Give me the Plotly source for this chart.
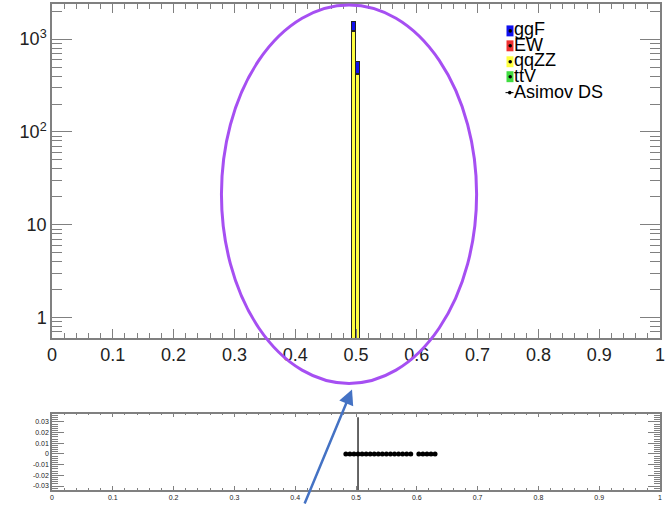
import plotly.graph_objects as go

# ---------------- data ----------------
bin_centers = [0.49667, 0.50333]
bin_width = 0.00667
ggF = [300, 146]
EW = [12, 6]
qqZZ = [1200, 410]
ttV = [8, 4]

ratio_x = [0.48333, 0.49, 0.49667, 0.50333, 0.51, 0.51667, 0.52333, 0.53, 0.53667,
           0.54333, 0.55, 0.55667, 0.56333, 0.57, 0.57667, 0.58333, 0.59,
           0.60333, 0.61, 0.61667, 0.62333, 0.63]
ratio_y = [0, 0, 0, 0, 0, 0, 0, 0, 0, 0, 0, 0, 0, 0, 0, 0, 0, 0, 0, 0, 0, 0]
ratio_err = [0, 0, 0, 0.0345, 0, 0, 0, 0, 0, 0, 0, 0, 0, 0, 0, 0, 0, 0, 0, 0, 0, 0]

x_ticks = [0, 0.1, 0.2, 0.3, 0.4, 0.5, 0.6, 0.7, 0.8, 0.9, 1]
x_labels = ["0", "0.1", "0.2", "0.3", "0.4", "0.5", "0.6", "0.7", "0.8", "0.9", "1"]
y_ticks = [1, 10, 100, 1000]
y_labels = ["1", "10", "10<sup>2</sup>", "10<sup>3</sup>"]
r_ticks = [-0.03, -0.02, -0.01, 0, 0.01, 0.02, 0.03]
r_labels = ["-0.03", "-0.02", "-0.01", "0", "0.01", "0.02", "0.03"]

legend_names = ["ggF", "EW", "qqZZ", "ttV", "Asimov DS"]
legend_colors = ["#1010ee", "#ee3030", "#ffff40", "#40dd40", None]

# ---------------- figure ----------------
W, H = 667, 505
ML, MR, MT, MB = 52, 5, 2, 15
PW, PH = W - ML - MR, H - MT - MB


def px(x):
    return (x - ML) / PW


def py(y):
    return (H - MB - y) / PH


fig = go.Figure()
stack = [("qqZZ", qqZZ, "#ffff40"), ("ttV", ttV, "#40dd40"),
         ("EW", EW, "#ee3030"), ("ggF", ggF, "#1010ee")]
for name, vals, col in stack:
    fig.add_trace(go.Bar(x=bin_centers, y=vals, width=bin_width, name=name,
                         marker=dict(color=col, line=dict(color="#222", width=1)),
                         xaxis="x", yaxis="y", showlegend=False))

fig.add_trace(go.Scatter(x=ratio_x, y=ratio_y, mode="markers",
                         marker=dict(color="black", size=5),
                         error_y=dict(type="data", array=ratio_err, visible=True,
                                      color="#333", thickness=1.5, width=0),
                         xaxis="x2", yaxis="y2", showlegend=False))

minor_log = []
for d in [0.1, 1, 10, 100, 1000]:
    for m in range(2, 10):
        minor_log.append(d * m)

axcol = "#808080"
txtcol = "#222222"
fig.update_layout(
    width=W, height=H,
    margin=dict(l=ML, r=MR, t=MT, b=MB),
    paper_bgcolor="white", plot_bgcolor="white",
    barmode="stack", bargap=0,
    font=dict(family="Liberation Sans, Arial", color=txtcol),
    xaxis=dict(domain=[0, 1], range=[0, 1], anchor="y",
               tickmode="array", tickvals=x_ticks, ticktext=x_labels,
               ticks="inside", ticklen=9, tickcolor=axcol, tickwidth=1,
               minor=dict(dtick=0.02, ticks="inside", ticklen=5, tickcolor=axcol, showgrid=False),
               showline=True, linecolor=axcol, linewidth=1.5, mirror="ticks",
               showgrid=False, zeroline=False, ticklabeloverflow="allow",
               tickfont=dict(size=18, color=txtcol)),
    yaxis=dict(domain=[py(337.5), 1], type="log", range=[-0.221, 3.379], anchor="x",
               tickmode="array", tickvals=y_ticks, ticktext=y_labels,
               ticks="inside", ticklen=20, tickcolor=axcol, tickwidth=1,
               minor=dict(tickmode="array", tickvals=minor_log, ticks="inside", ticklen=10,
                          tickcolor=axcol, showgrid=False),
               showline=True, linecolor=axcol, linewidth=1.5, mirror="ticks",
               showgrid=False, zeroline=False, tickfont=dict(size=18, color=txtcol)),
    xaxis2=dict(domain=[0, 1], range=[0, 1], anchor="y2",
                tickmode="array", tickvals=x_ticks, ticktext=x_labels,
                ticks="inside", ticklen=4, tickcolor=axcol, tickwidth=1,
                minor=dict(dtick=0.02, ticks="inside", ticklen=2, tickcolor=axcol, showgrid=False),
                showline=True, linecolor=axcol, linewidth=1.5, mirror="ticks",
                showgrid=False, zeroline=False, ticklabeloverflow="allow",
                tickfont=dict(size=7, color=txtcol)),
    yaxis2=dict(domain=[0, py(413.3)], range=[-0.0337, 0.0378], anchor="x2",
                tickmode="array", tickvals=r_ticks, ticktext=r_labels,
                ticks="inside", ticklen=12, tickcolor=axcol, tickwidth=1,
                minor=dict(dtick=0.002, tick0=0, ticks="inside", ticklen=6, tickcolor=axcol, showgrid=False),
                showline=True, linecolor=axcol, linewidth=1.5, mirror="ticks",
                showgrid=False, zeroline=False, tickfont=dict(size=7, color=txtcol)),
)

shapes = []
annotations = []
# legend (manual, ROOT style)
text_y = [27, 43, 58, 74, 90]
box_y = [29, 44, 60, 75, 91]
for name, col, ty, by in zip(legend_names, legend_colors, text_y, box_y):
    if col is not None:
        shapes.append(dict(type="rect", xref="paper", yref="paper",
                           x0=px(508), x1=px(515), y0=py(by - 5.5), y1=py(by + 5.5),
                           fillcolor=col, line=dict(width=0)))
        shapes.append(dict(type="circle", xref="paper", yref="paper",
                           x0=px(510), x1=px(513.5), y0=py(by - 1.8), y1=py(by + 1.8),
                           fillcolor="black", line=dict(width=0)))
    else:
        shapes.append(dict(type="line", xref="paper", yref="paper",
                           x0=px(507), x1=px(515), y0=py(by), y1=py(by),
                           line=dict(color="black", width=1)))
        shapes.append(dict(type="circle", xref="paper", yref="paper",
                           x0=px(509.5), x1=px(513), y0=py(by - 1.8), y1=py(by + 1.8),
                           fillcolor="black", line=dict(width=0)))
    annotations.append(dict(text=name, xref="paper", yref="paper", x=px(513.5), y=py(ty),
                            xanchor="left", yanchor="middle", showarrow=False,
                            font=dict(size=18, color="black")))

# purple ellipse
shapes.append(dict(type="circle", xref="paper", yref="paper",
                   x0=px(222), x1=px(478), y0=py(383), y1=py(3),
                   line=dict(color="#a64ff2", width=3), fillcolor="rgba(0,0,0,0)"))

# blue arrow
annotations.append(dict(text="", xref="paper", yref="paper", x=px(353), y=py(389),
                        ax=-48, ay=118, showarrow=True, arrowhead=2, arrowsize=1.2,
                        arrowwidth=2.5, arrowcolor="#4472c4"))

fig.update_layout(shapes=shapes, annotations=annotations)
fig.write_html("out.html")
